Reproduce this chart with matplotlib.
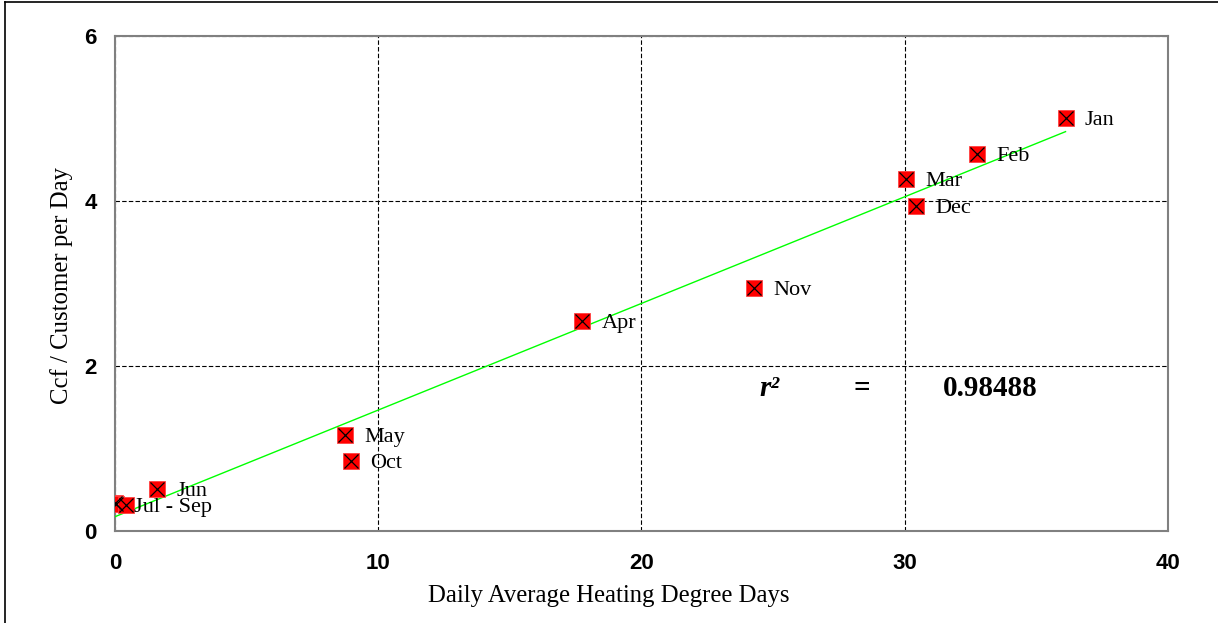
import numpy as np
import matplotlib
matplotlib.use("Agg")
import matplotlib.pyplot as plt
from matplotlib.lines import Line2D

# Monthly gas use vs heating degree days
months = ["Jan", "Feb", "Mar", "Apr", "May", "Jun", "Jul", "Aug", "Sep", "Oct", "Nov", "Dec"]
point_labels = ["Jan", "Feb", "Mar", "Apr", "May", "Jun", "", "", "Jul - Sep", "Oct", "Nov", "Dec"]
hdd = [36.11, 32.74, 30.05, 17.76, 8.74, 1.58, 0.0, 0.05, 0.42, 8.95, 24.27, 30.43]
ccf = [5.01, 4.57, 4.27, 2.54, 1.16, 0.505, 0.34, 0.33, 0.32, 0.846, 2.95, 3.94]
r_squared = "0.98488"

x_ticks = [0, 10, 20, 30, 40]
y_ticks = [0, 2, 4, 6]

fig = plt.figure(figsize=(12.18, 6.23), dpi=100)
ax = fig.add_axes([0.0944, 0.1477, 0.8645, 0.7945])

# linear trend line over the data range
x = np.array(hdd)
y = np.array(ccf)
slope, intercept = np.polyfit(x, y, 1)
xs = np.array([x.min(), x.max()])
ax.plot(xs, slope * xs + intercept, color="#00ff00", lw=1.0, zorder=3)

# red square markers with a black cross
ax.plot(x, y, ls="none", marker="s", ms=12, mfc="red", mec="#ff4040", mew=0.6, zorder=4)
ax.plot(x, y, ls="none", marker="x", ms=10.5, mec="black", mew=0.9, zorder=5)

for xi, yi, lab in zip(hdd, ccf, point_labels):
    if not lab:
        continue
    dx = 6 if lab == "Jul - Sep" else 14
    ax.annotate(lab, (xi, yi), xytext=(dx, 0), textcoords="offset points",
                ha="left", va="center_baseline", fontsize=16, family="Liberation Serif", zorder=6)

# r squared annotation
ax.text(0.622, 0.293, "r²", transform=ax.transAxes, ha="center", va="center_baseline",
        fontsize=21, family="Liberation Serif", fontweight="bold", fontstyle="italic")
ax.text(0.709, 0.293, "=", transform=ax.transAxes, ha="center", va="center_baseline",
        fontsize=21, family="Liberation Serif", fontweight="bold")
ax.text(0.831, 0.293, r_squared, transform=ax.transAxes, ha="center", va="center_baseline",
        fontsize=21, family="Liberation Serif", fontweight="bold")

ax.set_xlim(0, 40)
ax.set_ylim(0, 6)
ax.set_xticks(x_ticks)
ax.set_yticks(y_ticks)
ax.tick_params(length=0, labelsize=16)
ax.tick_params(axis="x", pad=16)
ax.tick_params(axis="y", pad=13)
for t in ax.get_xticklabels() + ax.get_yticklabels():
    t.set_family("Liberation Sans")
    t.set_fontweight("bold")

ax.grid(True, color="black", ls=(0, (4, 2)), lw=0.8)
ax.set_axisbelow(True)
for s in ax.spines.values():
    s.set_color("#808080")
    s.set_linewidth(1.5)

ax.set_xlabel("Daily Average Heating Degree Days", fontsize=17.8, family="Liberation Serif")
ax.set_ylabel("Ccf / Customer per Day", fontsize=17.8, family="Liberation Serif")
ax.xaxis.set_label_coords(0.469, -0.109)
ax.yaxis.set_label_coords(-0.040, 0.495)

# thin frame around the chart area (left and top edges visible)
fig.add_artist(Line2D([5 / 1218, 5 / 1218], [0, 1 - 2 / 623], color="black", lw=1.2, transform=fig.transFigure))
fig.add_artist(Line2D([5 / 1218, 1], [1 - 2 / 623, 1 - 2 / 623], color="black", lw=1.2, transform=fig.transFigure))

fig.savefig("out.png", dpi=100)
